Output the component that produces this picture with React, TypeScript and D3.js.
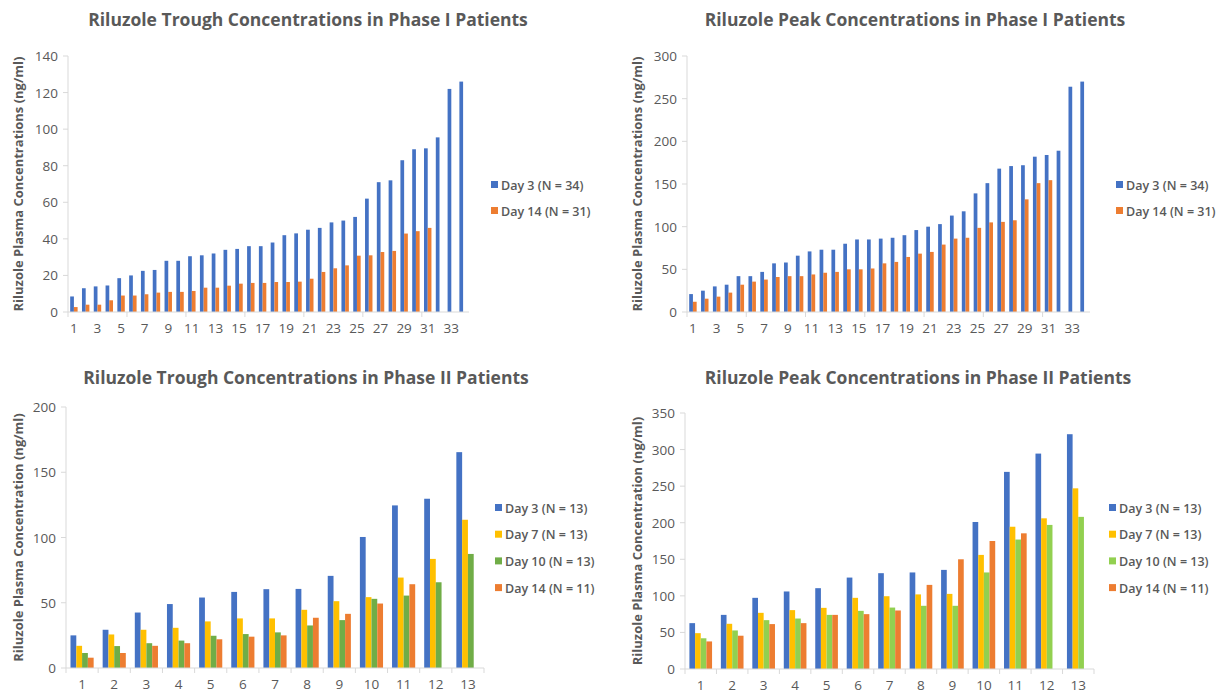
import React from "react";
import * as d3 from "d3";

// ---- Data ----
const p1Cats = d3.range(1, 35).map(String);
const p1TroughDay3 = [8.5, 13, 14, 14.5, 18.5, 20, 22.5, 23, 28, 28, 30.5, 31, 32, 34, 34.5, 36, 36, 38, 42, 43, 45, 46, 49, 50, 52, 62, 71, 72, 83, 89, 89.5, 95.5, 122, 126];
const p1TroughDay14 = [2.7, 4, 4, 6.4, 9, 9, 9.7, 10.6, 11, 11, 11.5, 13.3, 13.3, 14.4, 15.5, 15.9, 15.9, 16.4, 16.4, 16.6, 18.2, 21.9, 23.9, 25.5, 30.8, 31, 32.8, 33.4, 42.9, 44.2, 46, null, null, null];
const p1PeakDay3 = [21, 25, 30, 32, 42, 42, 47, 57, 58, 66, 71, 73, 73, 80, 85, 85, 86, 87, 90, 96, 100, 103, 113, 118, 139, 151, 168, 171, 172, 182, 184, 189, 264, 270];
const p1PeakDay14 = [12, 15.6, 18, 22.7, 32, 35.6, 38, 41, 42, 42, 44, 46, 47, 50, 50, 51, 57, 58.7, 64.5, 68.4, 70.4, 79, 86, 87, 98.6, 105, 105.6, 107.5, 132, 151, 154.5, null, null, null];

const p2Cats = d3.range(1, 14).map(String);
const p2TroughDay3 = [25, 29.3, 42.5, 49, 54, 58.3, 60.4, 60.6, 70.6, 100.4, 124.6, 129.7, 165.4];
const p2TroughDay7 = [17, 25.7, 29.3, 30.8, 35.7, 38, 38, 44.6, 51.2, 54.3, 69.3, 83.6, 113.6];
const p2TroughDay10 = [11.5, 16.8, 19, 21, 24.7, 26, 27.3, 32.6, 36.7, 53, 55.5, 65.7, 87.4];
const p2TroughDay14 = [7.9, 11.5, 17, 19, 22, 24, 25, 38.5, 41.5, 49.4, 64.2, null, null];
const p2PeakDay3 = [62.7, 74, 97.3, 106, 110.5, 125, 131, 132, 135.5, 201, 269.5, 294.5, 321];
const p2PeakDay7 = [49, 61.8, 76.8, 80.5, 83.6, 97.3, 99.5, 102, 102.7, 156, 194.5, 206, 247];
const p2PeakDay10 = [42, 52.7, 66.8, 69, 74, 79.5, 84, 86.4, 86.4, 132, 177, 197, 208];
const p2PeakDay14 = [37.7, 45.5, 61.4, 62.7, 74, 75, 80, 115, 150, 175, 185.5, null, null];

const p1Legend = ["Day 3 (N = 34)", "Day 14 (N = 31)"];
const p2Legend = ["Day 3 (N = 13)", "Day 7 (N = 13)", "Day 10 (N = 13)", "Day 14 (N = 11)"];

const BLUE = "#4472C4";
const ORANGE = "#ED7D31";
const YELLOW = "#FFC000";
const GREEN = "#70AD47";
const LGREEN = "#92D050";
const TEXT = "#595959";
const AXIS = "#D9D9D9";
const FONT = "'Open Sans', 'DejaVu Sans', sans-serif";

type Series = { values: (number | null)[]; color: string; name: string };

type PanelProps = {
  title: string;
  titleX: number;
  titleY: number;
  yTitle: string;
  yTitleX: number;
  cats: string[];
  series: Series[];
  x0: number;
  x1: number;
  yTop: number;
  yBot: number;
  yMax: number;
  yStep: number;
  labelEvery: number;
  tickEvery: number;
  padInner: number;
  legendX: number;
  legendY: number;
  legendGap: number;
};

function Panel(p: PanelProps) {
  const x = d3.scaleBand<string>().domain(p.cats).range([p.x0, p.x1]).paddingInner(p.padInner).paddingOuter(p.padInner / 2);
  const sub = d3.scaleBand<number>().domain(d3.range(p.series.length)).range([0, x.bandwidth()]);
  const y = d3.scaleLinear().domain([0, p.yMax]).range([p.yBot, p.yTop]);
  const yTicks = d3.range(0, p.yMax + 0.001, p.yStep);
  const step = x.step();
  const boundaries = d3.range(0, p.cats.length + 1, p.tickEvery).map((i) => p.x0 + i * step);
  return (
    <g>
      <text x={p.titleX} y={p.titleY} textAnchor="middle" fontFamily={FONT} fontWeight="bold" fontSize={17.5} fill={TEXT}>
        {p.title}
      </text>
      <text
        transform={`translate(${p.yTitleX},${(p.yTop + p.yBot) / 2}) rotate(-90)`}
        textAnchor="middle"
        dominantBaseline="central"
        fontFamily={FONT}
        fontWeight="bold"
        fontSize={13}
        fill={TEXT}
      >
        {p.yTitle}
      </text>
      {/* y axis */}
      <line x1={p.x0} x2={p.x0} y1={p.yTop} y2={p.yBot} stroke={AXIS} />
      {yTicks.map((t) => (
        <g key={t}>
          <line x1={p.x0 - 5} x2={p.x0} y1={y(t)} y2={y(t)} stroke={AXIS} />
          <text x={p.x0 - 10} y={y(t)} textAnchor="end" dominantBaseline="central" fontFamily={FONT} fontSize={13.5} fill={TEXT}>
            {t}
          </text>
        </g>
      ))}
      {/* bars */}
      {p.series.map((s, si) =>
        s.values.map((v, i) =>
          v == null ? null : (
            <rect
              key={`${si}-${i}`}
              x={(x(p.cats[i]) as number) + (sub(si) as number)}
              y={y(v)}
              width={sub.bandwidth()}
              height={p.yBot - y(v)}
              fill={s.color}
            />
          )
        )
      )}
      {/* x axis */}
      <line x1={p.x0} x2={p.x1} y1={p.yBot} y2={p.yBot} stroke={AXIS} />
      {boundaries.map((b, i) => (
        <line key={i} x1={b} x2={b} y1={p.yBot} y2={p.yBot + 5} stroke={AXIS} />
      ))}
      {p.cats.map((c, i) =>
        i % p.labelEvery === 0 ? (
          <text key={c} x={(x(c) as number) + x.bandwidth() / 2} y={p.yBot + 21} textAnchor="middle" fontFamily={FONT} fontSize={13.5} fill={TEXT}>
            {c}
          </text>
        ) : null
      )}
      {/* legend */}
      {p.series.map((s, si) => (
        <g key={s.name} transform={`translate(${p.legendX},${p.legendY + si * p.legendGap})`}>
          <rect x={0} y={-4} width={7} height={7} fill={s.color} />
          <text x={10} y={0} dominantBaseline="central" fontFamily={FONT} fontWeight={600} fontSize={12.5} fill={TEXT}>
            {s.name}
          </text>
        </g>
      ))}
    </g>
  );
}

export default function App() {
  return (
    <svg width={1224} height={696} style={{ display: "block", position: "absolute", left: 0, top: 0, background: "#fff" }}>
      <rect width={1224} height={696} fill="#fff" />
      <Panel
        title="Riluzole Trough Concentrations in Phase I Patients"
        titleX={308}
        titleY={26}
        yTitle="Riluzole Plasma Concentrations (ng/ml)"
        yTitleX={18}
        cats={p1Cats}
        series={[
          { values: p1TroughDay3, color: BLUE, name: p1Legend[0] },
          { values: p1TroughDay14, color: ORANGE, name: p1Legend[1] },
        ]}
        x0={68}
        x1={469}
        yTop={56}
        yBot={312}
        yMax={140}
        yStep={20}
        labelEvery={2}
        tickEvery={5}
        padInner={0.37}
        legendX={491}
        legendY={185}
        legendGap={26}
      />
      <Panel
        title="Riluzole Peak Concentrations in Phase I Patients"
        titleX={915}
        titleY={26}
        yTitle="Riluzole Plasma Concentrations (ng/ml)"
        yTitleX={637}
        cats={p1Cats}
        series={[
          { values: p1PeakDay3, color: BLUE, name: p1Legend[0] },
          { values: p1PeakDay14, color: ORANGE, name: p1Legend[1] },
        ]}
        x0={687}
        x1={1090}
        yTop={56}
        yBot={312}
        yMax={300}
        yStep={50}
        labelEvery={2}
        tickEvery={5}
        padInner={0.37}
        legendX={1116}
        legendY={185}
        legendGap={26}
      />
      <Panel
        title="Riluzole Trough Concentrations in Phase II Patients"
        titleX={306}
        titleY={384}
        yTitle="Riluzole Plasma Concentration (ng/ml)"
        yTitleX={18}
        cats={p2Cats}
        series={[
          { values: p2TroughDay3, color: BLUE, name: p2Legend[0] },
          { values: p2TroughDay7, color: YELLOW, name: p2Legend[1] },
          { values: p2TroughDay10, color: GREEN, name: p2Legend[2] },
          { values: p2TroughDay14, color: ORANGE, name: p2Legend[3] },
        ]}
        x0={66}
        x1={484}
        yTop={407}
        yBot={668}
        yMax={200}
        yStep={50}
        labelEvery={1}
        tickEvery={1}
        padInner={0.28}
        legendX={495}
        legendY={508}
        legendGap={26.7}
      />
      <Panel
        title="Riluzole Peak Concentrations in Phase II Patients"
        titleX={918}
        titleY={384}
        yTitle="Riluzole Plasma Concentration (ng/ml)"
        yTitleX={637}
        cats={p2Cats}
        series={[
          { values: p2PeakDay3, color: BLUE, name: p2Legend[0] },
          { values: p2PeakDay7, color: YELLOW, name: p2Legend[1] },
          { values: p2PeakDay10, color: LGREEN, name: p2Legend[2] },
          { values: p2PeakDay14, color: ORANGE, name: p2Legend[3] },
        ]}
        x0={685}
        x1={1094}
        yTop={413}
        yBot={669}
        yMax={350}
        yStep={50}
        labelEvery={1}
        tickEvery={1}
        padInner={0.28}
        legendX={1109}
        legendY={508}
        legendGap={26.7}
      />
    </svg>
  );
}
